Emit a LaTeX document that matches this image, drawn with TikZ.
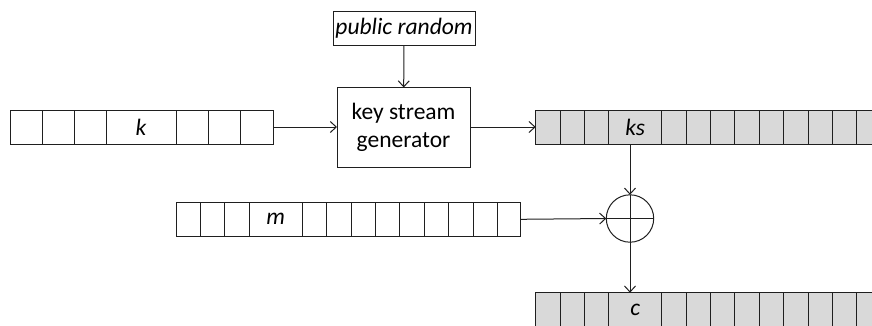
\documentclass[tikz,border=0pt]{standalone}
\usepackage{fontspec}
\setmainfont{Carlito}
\usetikzlibrary{arrows.meta}
\definecolor{cellgray}{HTML}{D9D9D9}
\definecolor{ink}{HTML}{1F1F1F}

\begin{document}
\begin{tikzpicture}[x=1pt, y=-1pt, line width=1pt, draw=ink,
  cell/.style={draw=ink, minimum height=34pt, inner sep=0pt, outer sep=0pt,
    anchor=north west, text=black, font=\itshape\fontsize{23.5}{24}\selectfont},
  shaded/.style={fill=cellgray},
  box/.style={draw=ink, inner sep=0pt, outer sep=0pt, align=center, text=black,
    font=\fontsize{23.5}{28}\selectfont},
  arr/.style={draw=ink, -{Straight Barb[length=6pt,width=11pt]}}]
\useasboundingbox (0,0) rectangle (872,325);
\clip (0,0) rectangle (872,325);

% key register
\foreach \i/\x/\w/\t in {1/10/32/{},2/42/32/{},3/74/32/{},4/106/70/k,5/176/32/{},6/208/32/{},7/240/33/{}}
  \node[cell, minimum width=\w pt] (k\i) at (\x,110) {\t};

% generator and its public input
\node[box, minimum width=133pt, minimum height=80pt] (gen) at (403.5,127.5) {key stream\\generator};
\node[box, minimum width=142pt, minimum height=34pt, font=\itshape\fontsize{23.5}{24}\selectfont] (pub) at (404,28.7) {public random};

% key stream register
\foreach \i/\x/\w/\t in {1/535.7/24.4/{},2/560.1/24.4/{},3/584.5/24.4/{},4/608.9/52.7/ks,
  5/661.6/24.4/{},6/686/24.4/{},7/710.4/24.4/{},8/734.8/24.4/{},9/759.2/24.4/{},
  10/783.6/24.4/{},11/808/24.4/{},12/832.4/24.4/{},13/856.8/24.4/{}}
  \node[cell, shaded, minimum width=\w pt] (s\i) at (\x,110) {\t};

% message register
\foreach \i/\x/\w/\t in {1/176/24.4/{},2/200.4/24.4/{},3/224.8/24.4/{},4/249.2/53/m,
  5/302.2/24.4/{},6/326.6/24.4/{},7/351/24.4/{},8/375.4/24.4/{},9/399.8/24.4/{},
  10/424.2/24.4/{},11/448.6/24.4/{},12/473/24.4/{},13/497.4/23.3/{}}
  \node[cell, minimum width=\w pt] (m\i) at (\x,202.3) {\t};

% ciphertext register
\foreach \i/\x/\w/\t in {1/535.7/24.4/{},2/560.1/24.4/{},3/584.5/24.4/{},4/608.9/52.7/c,
  5/661.6/24.4/{},6/686/24.4/{},7/710.4/24.4/{},8/734.8/24.4/{},9/759.2/24.4/{},
  10/783.6/24.4/{},11/808/24.4/{},12/832.4/24.4/{},13/856.8/24.4/{}}
  \node[cell, shaded, minimum width=\w pt] (c\i) at (\x,292.7) {\t};

% XOR
\node[draw=ink, circle, minimum size=47.4pt, inner sep=0pt, outer sep=0pt] (xor) at (630,218.5) {};
\draw (xor.north) -- (xor.south);
\draw (xor.west) -- (xor.east);

% connectors
\draw[arr] (pub) -- (gen);
\draw[arr] (k7.east) -- (gen.west |- k7.east);
\draw[arr] (gen.east |- s1.west) -- (s1.west);
\draw[arr] (s4.south -| xor.north) -- (xor.north);
\draw[arr] (m13.east) -- (xor.west);
\draw[arr] (xor.south) -- (xor.south |- c4.north);
\end{tikzpicture}
\end{document}
